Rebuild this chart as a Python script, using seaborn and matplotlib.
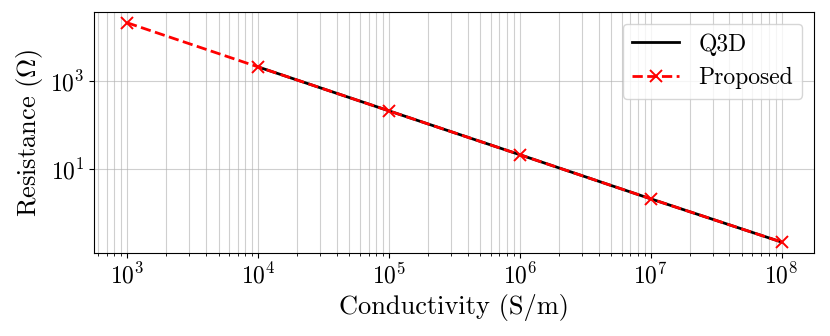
import numpy as np
import pandas as pd
import matplotlib
matplotlib.use("Agg")
import matplotlib.pyplot as plt
import matplotlib.ticker as mticker
import seaborn as sns

# Data
conductivity_q3d = [1e4, 1e5, 1e6, 1e7, 1e8]
resistance_q3d = [2100, 212, 21.5, 2.15, 0.225]
conductivity_prop = [1e3, 1e4, 1e5, 1e6, 1e7, 1e8]
resistance_prop = [21000, 2100, 212, 21.5, 2.15, 0.225]

plt.rcParams.update({
    "font.family": "serif",
    "font.serif": ["cmr10"],
    "mathtext.fontset": "cm",
    "axes.formatter.use_mathtext": True,
    "axes.unicode_minus": False,
    "font.size": 17,
})

df_q = pd.DataFrame({"x": conductivity_q3d, "y": resistance_q3d})
df_p = pd.DataFrame({"x": conductivity_prop, "y": resistance_prop})

fig, ax = plt.subplots(figsize=(8.3, 3.36), dpi=100)
fig.subplots_adjust(left=0.1136, right=0.981, bottom=0.247, top=0.965)

sns.lineplot(data=df_q, x="x", y="y", ax=ax, color="black", linewidth=2,
             label="Q3D")
sns.lineplot(data=df_p, x="x", y="y", ax=ax, color="red", linewidth=2,
             linestyle="--", marker="x", markersize=8, mew=1.4, mec="red",
             label="Proposed")

ax.set_xscale("log")
ax.set_yscale("log")
ax.yaxis.set_major_locator(mticker.FixedLocator([1e-1, 1e1, 1e3, 1e5]))
ax.yaxis.set_major_formatter(mticker.LogFormatterSciNotation())
ax.yaxis.set_minor_locator(mticker.NullLocator())

ax.grid(True, which="both", color="#b0b0b0", alpha=0.6, linewidth=0.8)
ax.set_axisbelow(True)

ax.set_xlabel("Conductivity (S/m)", fontsize=19)
ax.set_ylabel(r"Resistance ($\Omega$)", fontsize=19)
ax.tick_params(labelsize=17)
ax.legend(loc="upper right", fontsize=17)

fig.savefig("out.png", dpi=100)
